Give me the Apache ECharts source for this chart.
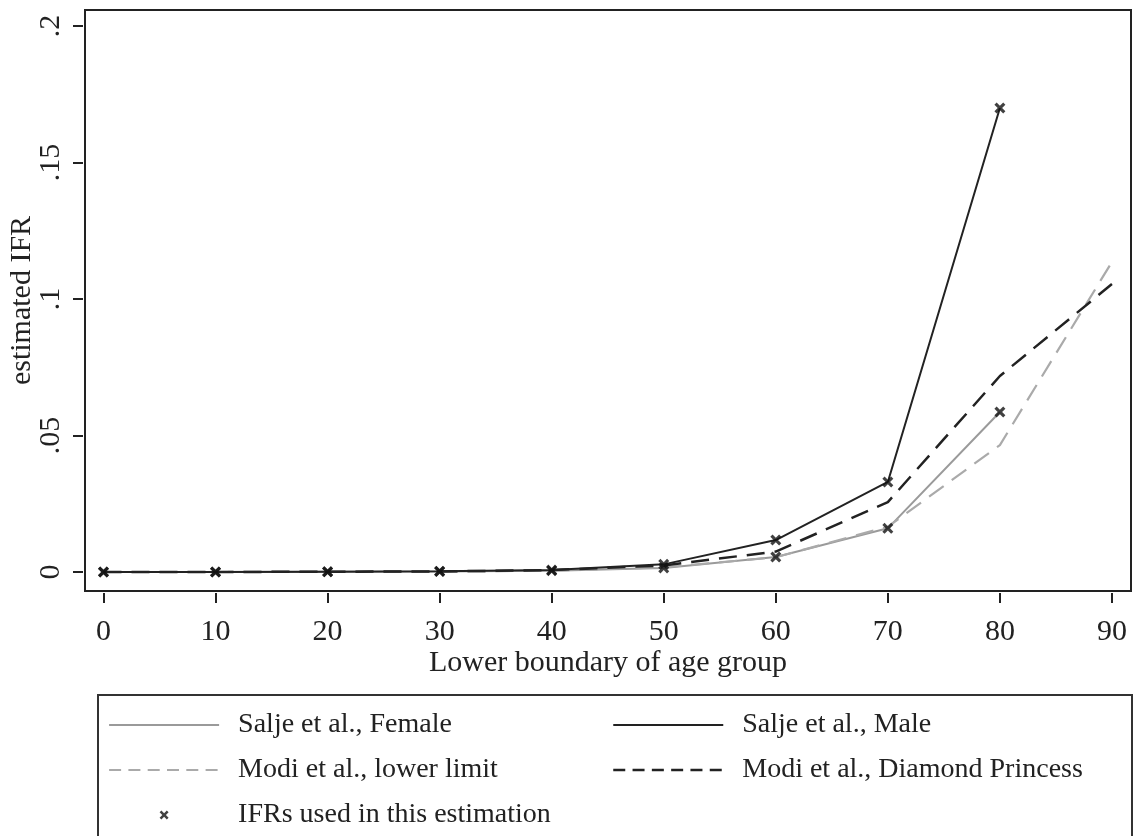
<!DOCTYPE html>
<html>
<head>
<meta charset="utf-8">
<script src="https://cdn.jsdelivr.net/npm/echarts@6/dist/echarts.min.js"></script>
<style>
html,body{margin:0;padding:0;background:#fff;}
#chart{width:1134px;height:836px;}
</style>
</head>
<body>
<div id="chart"></div>
<script>
// ---- data ----
var ages = [0, 10, 20, 30, 40, 50, 60, 70, 80, 90];
var saljeFemale = [0.00001, 0.00001, 0.0001, 0.0002, 0.0005, 0.0015, 0.0055, 0.0160, 0.0586];
var saljeMale   = [0.00001, 0.00001, 0.0001, 0.0003, 0.0007, 0.0028, 0.0117, 0.0330, 0.1700];
var modiLower   = [0.0, 0.0, 0.0001, 0.0001, 0.0005, 0.0017, 0.0054, 0.0166, 0.0465, 0.1136];
var modiDP      = [0.0, 0.0, 0.0001, 0.0002, 0.0007, 0.0024, 0.0075, 0.0256, 0.0718, 0.1055];
var xTicks = [0, 10, 20, 30, 40, 50, 60, 70, 80, 90];
var yTicks = [0, 0.05, 0.1, 0.15, 0.2];
var names = {
  female: 'Salje et al., Female',
  male: 'Salje et al., Male',
  lower: 'Modi et al., lower limit',
  dp: 'Modi et al., Diamond Princess',
  ifr: 'IFRs used in this estimation'
};

function pairs(vals) {
  return vals.map(function (v, i) { return [ages[i], v]; });
}
var ifrPoints = pairs(saljeFemale).concat(pairs(saljeMale));

var xPath = 'path://M0,2 L2,0 L5,3 L8,0 L10,2 L7,5 L10,8 L8,10 L5,7 L2,10 L0,8 L3,5 Z';
var FONT = 'Liberation Serif';

function lineItem(n, color, width, dash) {
  return { name: n, itemStyle: { opacity: 0 }, lineStyle: { color: color, width: width, type: dash } };
}

var chart = echarts.init(document.getElementById('chart'));
var option = {
  backgroundColor: '#fff',
  animation: false,
  textStyle: { fontFamily: FONT },
  grid: {
    left: 85, right: 3, top: 10, bottom: 245, outerBoundsMode: 'none', containLabel: false,
    show: true, borderColor: '#222', borderWidth: 2, backgroundColor: '#fff'
  },
  xAxis: {
    type: 'value', min: -1.65, max: 91.7, offset: 2,
    name: 'Lower boundary of age group', nameLocation: 'middle', nameGap: 55, nameMoveOverlap: false,
    nameTextStyle: { fontFamily: FONT, fontSize: 30, color: '#222' },
    axisLine: { show: false, onZero: false },
    axisTick: { show: true, inside: false, length: 10, customValues: xTicks, lineStyle: { color: '#222', width: 2 } },
    axisLabel: { customValues: xTicks, margin: 24, fontFamily: FONT, fontSize: 30, color: '#222' },
    splitLine: { show: false }
  },
  yAxis: {
    type: 'value', min: -0.00696, max: 0.2059, offset: 2,
    name: 'estimated IFR', nameLocation: 'middle', nameGap: 46, nameRotate: 90, nameMoveOverlap: false,
    nameTextStyle: { fontFamily: FONT, fontSize: 30, color: '#222' },
    axisLine: { show: false, onZero: false },
    axisTick: { show: true, inside: false, length: 10, customValues: yTicks, lineStyle: { color: '#222', width: 2 } },
    axisLabel: {
      customValues: yTicks, rotate: 90, margin: 17, fontFamily: FONT, fontSize: 30, color: '#222',
      formatter: function (v) { return v === 0 ? '0' : String(+v.toFixed(3)).replace(/^0/, ''); }
    },
    splitLine: { show: false }
  },
  legend: [
    {
      orient: 'vertical', left: 108, top: 710, padding: 0, itemGap: 15,
      itemWidth: 110, itemHeight: 9,
      textStyle: { fontFamily: FONT, fontSize: 28, color: '#222', lineHeight: 30, padding: [0, 0, 0, 14] },
      data: [
        lineItem(names.female, '#9a9a9a', 2, 'solid'),
        lineItem(names.lower, '#aaaaaa', 2.2, [12, 7.3]),
        names.ifr
      ]
    },
    {
      orient: 'vertical', left: 612, top: 710, padding: 0, itemGap: 15,
      itemWidth: 110, itemHeight: 9,
      textStyle: { fontFamily: FONT, fontSize: 28, color: '#222', lineHeight: 30, padding: [0, 0, 0, 14] },
      data: [
        lineItem(names.male, '#222', 2, 'solid'),
        lineItem(names.dp, '#222', 2.5, [12, 7.3])
      ]
    }
  ],
  graphic: [
    {
      type: 'rect', left: 97, top: 694, z: -1,
      shape: { width: 1034, height: 180 },
      style: { fill: '#fff', stroke: '#333', lineWidth: 2 }
    }
  ],
  series: [
    {
      name: names.female, type: 'line', data: pairs(saljeFemale), symbol: 'none',
      lineStyle: { color: '#9a9a9a', width: 2 }, itemStyle: { color: '#9a9a9a' }, z: 2
    },
    {
      name: names.male, type: 'line', data: pairs(saljeMale), symbol: 'none',
      lineStyle: { color: '#222', width: 2 }, itemStyle: { color: '#222' }, z: 3
    },
    {
      name: names.lower, type: 'line', data: pairs(modiLower), symbol: 'none',
      lineStyle: { color: '#aaaaaa', width: 2.2, type: [18, 10] }, itemStyle: { color: '#aaaaaa' }, z: 2
    },
    {
      name: names.dp, type: 'line', data: pairs(modiDP), symbol: 'none',
      lineStyle: { color: '#222', width: 2.5, type: [18, 10] }, itemStyle: { color: '#222' }, z: 3
    },
    {
      name: names.ifr, type: 'scatter', data: ifrPoints, symbol: xPath, symbolSize: 11,
      itemStyle: { color: '#111' }, z: 5
    }
  ]
};
chart.setOption(option);
</script>
</body>
</html>
